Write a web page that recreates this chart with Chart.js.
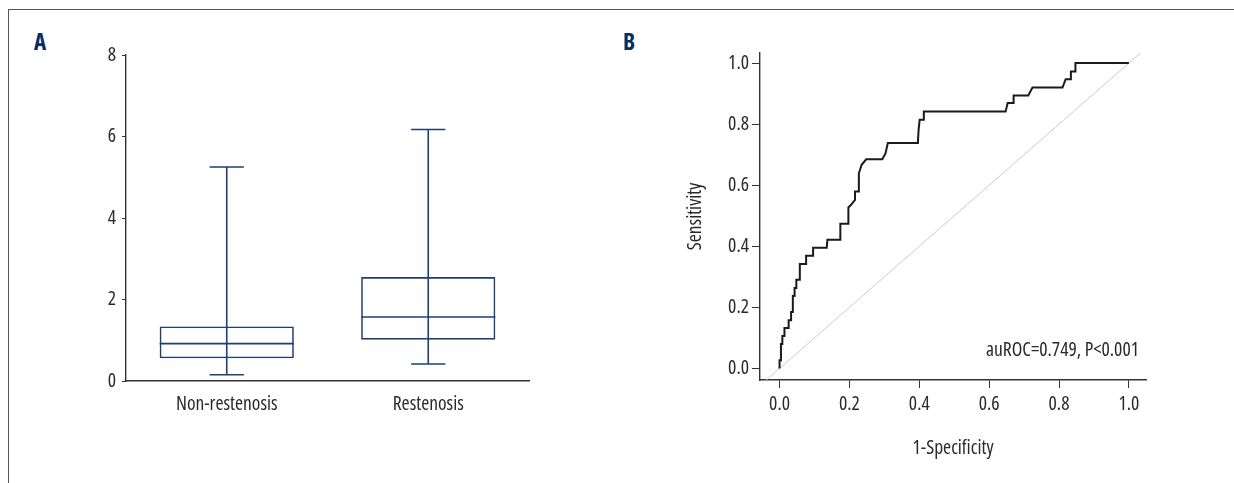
<!DOCTYPE html>
<html>
    <head>
        <meta charset="utf-8">
        <title>Box plot and ROC curve</title>
        <script src="https://cdn.jsdelivr.net/npm/chart.js@4.4.1"></script>
        <style>
            html, body {
                margin: 0;
                padding: 0;
                background: #fff;
            }
            #frame {
                position: absolute;
                left: 8px;
                top: 9px;
                width: 1226px;
                height: 474px;
                border-left: 1px solid #555;
                border-top: 1px solid #555;
            }
            .panel-label {
                position: absolute;
                top: 25px;
                font: bold 23px "Open Sans", sans-serif;
                font-stretch: condensed;
                color: #0b2d5c;
            }
            canvas {
                position: absolute;
                top: 0;
            }
        </style>
    </head>
    <body>
        <div id="frame"></div>
        <div class="panel-label" style="left: 34px;">A</div>
        <div class="panel-label" style="left: 623px;">B</div>
        <canvas id="boxes" width="600" height="483" style="left: 0;"></canvas>
        <canvas id="roc" width="634" height="483" style="left: 600px;"></canvas>
        <script>
            // panel A: box plot
            const groups = ['Non-restenosis', 'Restenosis'];
            const whiskerMin = [0.155, 0.417];
            const q1 = [0.556, 1.014];
            const median = [0.916, 1.57];
            const q3 = [1.34, 2.55];
            const whiskerMax = [5.25, 6.17];
            const boxTicks = [0, 2, 4, 6, 8];

            // panel B: ROC curve
            const fpr = [0, 0, 0.004, 0.004, 0.008, 0.008, 0.014, 0.014, 0.026, 0.026, 0.033, 0.033, 0.038, 0.038,
                0.043, 0.043, 0.048, 0.048, 0.058, 0.058, 0.076, 0.076, 0.096, 0.096, 0.135, 0.137, 0.174, 0.174,
                0.197, 0.197, 0.204, 0.216, 0.216, 0.227, 0.227, 0.235, 0.248, 0.294, 0.303, 0.310, 0.396, 0.398,
                0.401, 0.413, 0.413, 0.647, 0.653, 0.670, 0.670, 0.712, 0.724, 0.810, 0.819, 0.834, 0.834, 0.847,
                0.847, 1.0];
            const tpr = [0, 0.027, 0.027, 0.080, 0.080, 0.106, 0.106, 0.132, 0.132, 0.158, 0.158, 0.185, 0.185, 0.237,
                0.237, 0.263, 0.263, 0.290, 0.290, 0.342, 0.342, 0.369, 0.369, 0.395, 0.395, 0.421, 0.421, 0.474,
                0.474, 0.527, 0.535, 0.552, 0.579, 0.579, 0.639, 0.667, 0.685, 0.685, 0.703, 0.738, 0.738, 0.781,
                0.814, 0.814, 0.841, 0.841, 0.869, 0.869, 0.894, 0.894, 0.920, 0.920, 0.947, 0.947, 0.972, 0.972,
                1.0, 1.0];
            const refLine = [-0.1, 1.1];
            const rocTicks = [0, 0.2, 0.4, 0.6, 0.8, 1.0];
            const aucText = 'auROC=0.749, P<0.001';

            const navy = '#1f3f70';
            const axisColor = '#333';
            const textColor = '#2a2a2a';
            const font = { family: '"Open Sans", "Roboto Condensed", sans-serif', size: 19.5 };

            Chart.defaults.animation = false;
            Chart.defaults.color = textColor;

            // the canvas gets reset on resize, so set the condensed face before layout and draw
            const condensed = {
                id: 'condensed',
                beforeLayout(chart) { chart.ctx.fontStretch = 'condensed'; },
                beforeDraw(chart) { chart.ctx.fontStretch = 'condensed'; }
            };

            const whiskerPlugin = {
                id: 'whiskers',
                afterDatasetsDraw(chart) {
                    const ctx = chart.ctx;
                    const x = chart.scales.x;
                    const y = chart.scales.y;
                    const bars = chart.getDatasetMeta(0).data;
                    const capHalf = x.width / groups.length * 0.17 / 2;
                    ctx.save();
                    ctx.strokeStyle = navy;
                    ctx.lineWidth = 1.6;
                    groups.forEach((g, i) => {
                        const cx = x.getPixelForValue(i);
                        const boxHalf = bars[i].width / 2;
                        const lo = y.getPixelForValue(whiskerMin[i]);
                        const hi = y.getPixelForValue(whiskerMax[i]);
                        const med = y.getPixelForValue(median[i]);
                        ctx.beginPath();
                        ctx.moveTo(cx, lo);
                        ctx.lineTo(cx, hi);
                        ctx.moveTo(cx - capHalf, lo);
                        ctx.lineTo(cx + capHalf, lo);
                        ctx.moveTo(cx - capHalf, hi);
                        ctx.lineTo(cx + capHalf, hi);
                        ctx.moveTo(cx - boxHalf, med);
                        ctx.lineTo(cx + boxHalf, med);
                        ctx.stroke();
                    });
                    ctx.restore();
                }
            };

            new Chart(document.getElementById('boxes'), {
                type: 'bar',
                data: {
                    labels: groups,
                    datasets: [{
                        data: groups.map((g, i) => [q1[i], q3[i]]),
                        backgroundColor: 'rgba(0,0,0,0)',
                        borderColor: navy,
                        borderWidth: 1.6,
                        borderSkipped: false,
                        barPercentage: 0.666,
                        categoryPercentage: 1
                    }]
                },
                options: {
                    responsive: false,
                    layout: {
                        padding: { left: 86, right: 71, top: 55, bottom: 42 }
                    },
                    plugins: {
                        legend: { display: false },
                        tooltip: { enabled: false }
                    },
                    scales: {
                        x: {
                            grid: { display: false },
                            border: { display: true, color: axisColor, width: 1.4 },
                            ticks: { font, padding: 4, color: textColor },
                            afterFit: s => { s.height = 60; }
                        },
                        y: {
                            min: 0,
                            max: 8,
                            afterBuildTicks: s => { s.ticks = boxTicks.map(v => ({ value: v })); },
                            grid: { drawOnChartArea: false, drawTicks: true, tickLength: 4, color: axisColor },
                            border: { display: true, color: axisColor, width: 1.4 },
                            ticks: { font, padding: 6, color: textColor },
                            afterFit: s => { s.width = 40; }
                        }
                    }
                },
                plugins: [condensed, whiskerPlugin]
            });

            const aucPlugin = {
                id: 'aucLabel',
                afterDatasetsDraw(chart) {
                    const ctx = chart.ctx;
                    ctx.save();
                    ctx.font = `${font.size}px ${font.family}`;
                    ctx.fontStretch = 'condensed';
                    ctx.fillStyle = textColor;
                    ctx.textAlign = 'right';
                    ctx.textBaseline = 'middle';
                    ctx.fillText(aucText, chart.chartArea.right - 7, chart.scales.y.getPixelForValue(0.06));
                    ctx.restore();
                }
            };

            new Chart(document.getElementById('roc'), {
                type: 'scatter',
                data: {
                    datasets: [{
                        data: fpr.map((v, i) => ({ x: v, y: tpr[i] })),
                        showLine: true,
                        borderColor: '#1a1a1a',
                        borderWidth: 2,
                        pointRadius: 0,
                        tension: 0
                    }, {
                        data: refLine.map(v => ({ x: v, y: v })),
                        showLine: true,
                        borderColor: '#cccccc',
                        borderWidth: 1,
                        pointRadius: 0
                    }]
                },
                options: {
                    responsive: false,
                    layout: {
                        padding: { left: 80, right: 88, top: 53, bottom: 23 }
                    },
                    plugins: {
                        legend: { display: false },
                        tooltip: { enabled: false }
                    },
                    scales: {
                        x: {
                            min: -0.056,
                            max: 1.049,
                            afterBuildTicks: s => { s.ticks = rocTicks.map(v => ({ value: v })); },
                            grid: { drawOnChartArea: false, drawTicks: true, tickLength: 8, color: axisColor },
                            border: { display: true, color: axisColor, width: 1.4 },
                            ticks: { font, padding: 5, color: textColor, callback: v => v.toFixed(1) },
                            title: { display: true, text: '1-Specificity', font, color: textColor, padding: 0 },
                            afterFit: s => { s.height = 80; }
                        },
                        y: {
                            min: -0.038,
                            max: 1.033,
                            afterBuildTicks: s => { s.ticks = rocTicks.map(v => ({ value: v })); },
                            grid: { drawOnChartArea: false, drawTicks: true, tickLength: 8, color: axisColor },
                            border: { display: true, color: axisColor, width: 1.4 },
                            ticks: { font, padding: 3, color: textColor, callback: v => v.toFixed(1) },
                            title: { display: true, text: 'Sensitivity', font, color: textColor, padding: 4 },
                            afterFit: s => { s.width = 80; }
                        }
                    }
                },
                plugins: [condensed, aucPlugin]
            });
        </script>
    </body>
</html>
